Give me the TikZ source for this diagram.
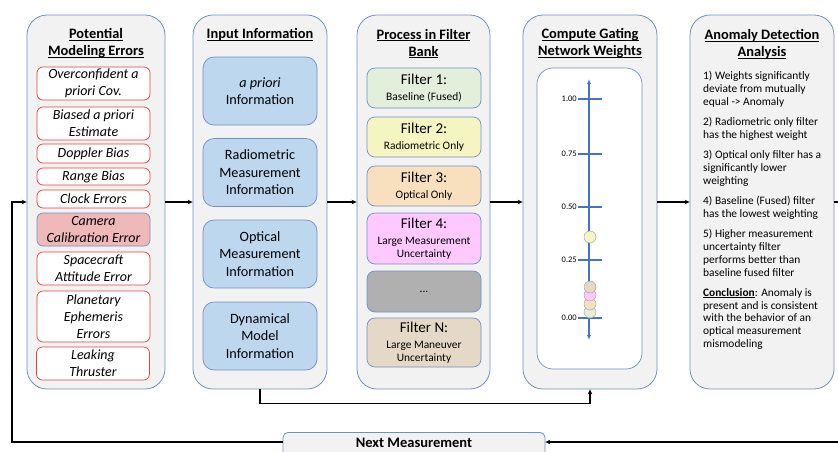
\documentclass[tikz,border=0pt]{standalone}
\usepackage{fontspec}
\setmainfont{Carlito}
\usetikzlibrary{arrows.meta}
\definecolor{panelfill}{HTML}{F2F2F2}
\definecolor{pblue}{HTML}{6F8FC8}
\definecolor{ired}{HTML}{F03C3C}
\definecolor{inblue}{HTML}{BDD7EE}
\definecolor{campink}{HTML}{EFB9B9}
\definecolor{fone}{HTML}{E2EFDA}
\definecolor{ftwo}{HTML}{F5F5C2}
\definecolor{fthree}{HTML}{F8E0BE}
\definecolor{ffour}{HTML}{FFC8FF}
\definecolor{fdots}{HTML}{B0B0B0}
\definecolor{fN}{HTML}{E6D8C6}
\definecolor{axblue}{HTML}{4472C4}
\newsavebox\ulbox
\newcommand{\uln}[1]{\sbox\ulbox{#1}\rlap{\rule[-1.8pt]{\wd\ulbox}{0.9pt}}\usebox\ulbox}
\tikzset{
 panel/.style={draw=pblue, fill=panelfill, rounded corners=20pt, line width=0.8pt, inner sep=0pt},
 errbox/.style={draw=ired, fill=white, rounded corners=6pt, line width=0.7pt, minimum width=113pt, align=center, font=\fontsize{14}{16.8}\selectfont\itshape, inner sep=0pt},
 inbox/.style={draw=pblue, fill=inblue, rounded corners=11pt, line width=0.7pt, minimum width=114pt, minimum height=68pt, align=center, font=\fontsize{14.2}{17.5}\selectfont, inner sep=0pt},
 filtbox/.style={draw=pblue, rounded corners=8pt, line width=0.7pt, minimum width=114pt, align=center, inner sep=0pt, font=\fontsize{11.4}{13}\selectfont},
 ttl/.style={align=center, font=\fontsize{14.4}{17}\selectfont\bfseries, inner sep=0pt},
 arr/.style={line width=1.1pt, -{Stealth[length=5pt,width=4.5pt]}},
 conn/.style={line width=1.1pt},
 tickln/.style={axblue, line width=1.2pt},
 ticklbl/.style={anchor=east, font=\fontsize{8.5}{9}\selectfont, inner sep=0pt},
 dot/.style={circle, draw=gray!70, line width=0.5pt, minimum size=12pt, inner sep=0pt},
}
\newcommand{\fhead}[1]{{\fontsize{15}{15}\selectfont #1}\\[2.5pt]}
\begin{document}
\begin{tikzpicture}[x=1pt,y=-1pt]
\useasboundingbox (0,0) rectangle (838,451);
% panels
\node[panel, minimum width=138pt, minimum height=374pt] (p1) at (96,202) {};
\node[panel, minimum width=134pt, minimum height=374pt] (p2) at (260,202) {};
\node[panel, minimum width=133pt, minimum height=374pt] (p3) at (423.5,202) {};
\node[panel, minimum width=134pt, minimum height=374pt] (p4) at (590,202) {};
\node[panel, minimum width=144pt, minimum height=374pt] (p5) at (762,202) {};
% titles
\node[ttl] (t1) at (96,43.5) {\uln{Potential}\\\uln{Modeling Errors}};
\node[ttl] (t2) at (260,35) {\uln{Input Information}};
\node[ttl] (t3) at (423.5,43.5) {\uln{Process in Filter}\\\uln{Bank}};
\node[ttl] (t4) at (590,43.5) {\uln{Compute Gating}\\\uln{Network Weights}};
\node[ttl] (t5) at (762,44.5) {\uln{Anomaly Detection}\\\uln{Analysis}};
% modeling errors
\node[errbox, minimum height=33pt] (e1) at (93.5,83.5) {Overconfident a\\priori Cov.};
\node[errbox, minimum height=33pt] (e2) at (93.5,123.5) {Biased a priori\\Estimate};
\node[errbox, minimum height=19pt] (e3) at (93.5,153.5) {Doppler Bias};
\node[errbox, minimum height=17pt] (e4) at (93.5,176.5) {Range Bias};
\node[errbox, minimum height=18pt] (e5) at (93.5,199) {Clock Errors};
\node[errbox, minimum height=33pt, draw=pblue, fill=campink] (e6) at (93.5,229.5) {Camera\\Calibration Error};
\node[errbox, minimum height=33pt] (e7) at (93.5,268.5) {Spacecraft\\Attitude Error};
\node[errbox, minimum height=51pt] (e8) at (93.5,316.5) {Planetary\\Ephemeris\\Errors};
\node[errbox, minimum height=33pt] (e9) at (93,363.5) {Leaking\\Thruster};
% input information
\node[inbox] (i1) at (260,91) {\textit{a priori}\\Information};
\node[inbox] (i2) at (260,172.5) {Radiometric\\Measurement\\Information};
\node[inbox] (i3) at (260,254) {Optical\\Measurement\\Information};
\node[inbox] (i4) at (260,336) {Dynamical\\Model\\Information};
% filter bank
\node[filtbox, fill=fone, minimum height=40pt] (f1) at (424,88) {\fhead{Filter 1:}Baseline (Fused)};
\node[filtbox, fill=ftwo, minimum height=40pt] (f2) at (424,137) {\fhead{Filter 2:}Radiometric Only};
\node[filtbox, fill=fthree, minimum height=40pt] (f3) at (424,186) {\fhead{Filter 3:}Optical Only};
\node[filtbox, fill=ffour, minimum height=51pt] (f4) at (424,238.5) {\fhead{Filter 4:}Large Measurement\\Uncertainty};
\node[filtbox, fill=fdots, minimum height=41pt] (f5) at (424,291.5) {...};
\node[filtbox, fill=fN, minimum height=49pt] (f6) at (424,342.5) {\fhead{Filter N:}Large Maneuver\\Uncertainty};
% gating weights
\node[draw=pblue, fill=white, rounded corners=16pt, line width=0.7pt, minimum width=105pt, minimum height=301pt] (wb) at (589.5,218.5) {};
\coordinate (axtop) at (589,79);
\coordinate (axbot) at (589,340);
\draw[axblue, line width=1.2pt, {Latex[length=5pt,width=4pt]}-{Latex[length=5pt,width=4pt]}] (axtop) -- (axbot);
\foreach \yy/\lb [count=\i] in {99/1.00,154/0.75,207/0.50,260/0.25,318/0.00}{
  \draw[tickln] (578,\yy) -- (602,\yy);
  \node[ticklbl] (tl\i) at (577,\yy) {\lb};
}
\node[dot, fill=fone] (c1) at (590,312) {};
\node[dot, fill=fthree] (c3) at (590,304) {};
\node[dot, fill=ffour] (c4) at (590,295) {};
\node[dot, fill=fN] (c6) at (590,287) {};
\node[dot, fill=ftwo] (c2) at (590,237) {};
% anomaly text
\node[anchor=north west, inner sep=0pt, align=left, font=\fontsize{11.4}{12.9}\selectfont] (body) at (703,71)
{1) Weights significantly\\deviate from mutually\\equal -> Anomaly\\[7.2pt]
2) Radiometric only filter\\has the highest weight\\[7.2pt]
3) Optical only filter has a\\significantly lower\\weighting\\[7.2pt]
4) Baseline (Fused) filter\\has the lowest weighting\\[7.2pt]
5) Higher measurement\\uncertainty filter\\performs better than\\baseline fused filter\\[7.2pt]
\uln{\textbf{Conclusion}}: Anomaly is\\present and is consistent\\with the behavior of an\\optical measurement\\mismodeling};
% next measurement
\node[draw=pblue, fill=panelfill, rounded corners=5pt, line width=0.8pt, minimum width=262pt, minimum height=40pt, anchor=north] (nm) at (414,432) {};
\node[font=\fontsize{14.5}{17}\selectfont\bfseries, inner sep=0pt] (nmt) at (414,442.5) {Next Measurement};
% connectors
\draw[arr] (p1.east) -- (p2.west);
\draw[arr] (p2.east) -- (p3.west);
\draw[arr] (p3.east) -- (p4.west);
\draw[arr] (p4.east) -- (p5.west);
\coordinate (outr) at (838,202);
\draw[conn] (p5.east) -- (outr);
\draw[arr] (p2.south) -- ++(0,14) -| (p4.south);
\coordinate (fbR) at (838,442);
\coordinate (fbL) at (12,442);
\draw[arr] (fbR) -- (fbR -| nm.east);
\draw[arr] (fbR -| nm.west) -- (fbL) |- (p1.west);
\end{tikzpicture}
\end{document}
